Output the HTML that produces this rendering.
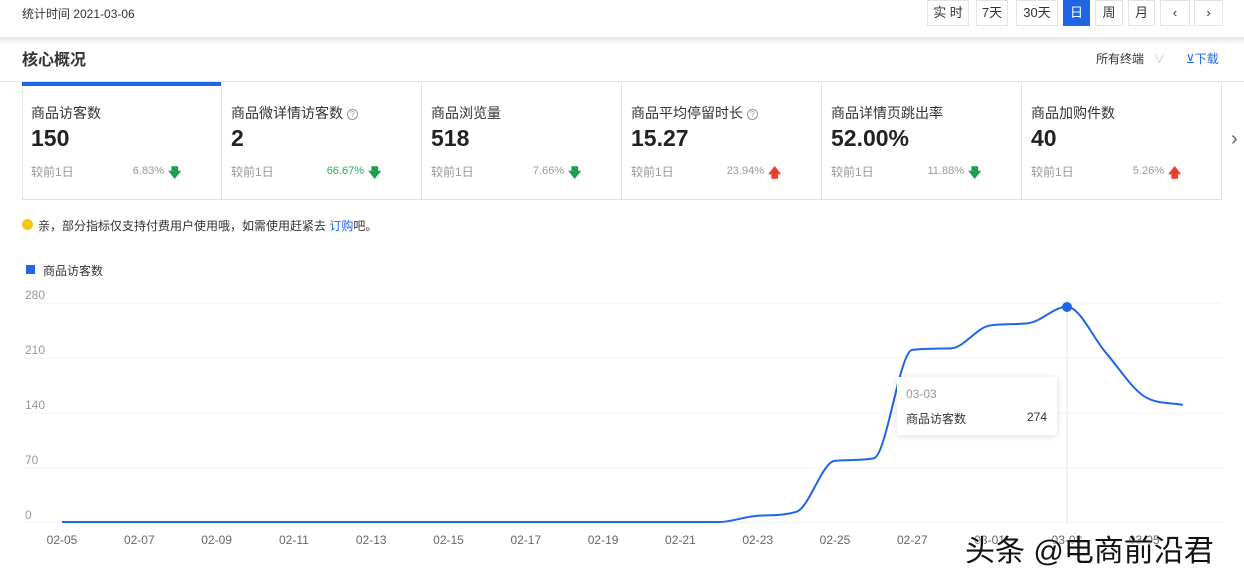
<!DOCTYPE html>
<html><head><meta charset="utf-8">
<style>
*{margin:0;padding:0;box-sizing:border-box}
body{width:1244px;height:579px;background:#fff;font-family:"Liberation Sans","Noto Sans CJK SC",sans-serif;color:#333;position:relative;overflow:hidden}
.a{position:absolute;white-space:nowrap}
.btn{position:absolute;top:0;height:26px;border:1px solid #e3e3e3;font-size:13px;line-height:24px;text-align:center;color:#333;background:#fff}
.card{position:absolute;top:82px;height:118px;width:200px;border-right:1px solid #dfe3e8;border-bottom:1px solid #dfe3e8}
.lbl{position:absolute;left:9px;top:21px;font-size:14px;color:#333}
.num{position:absolute;left:9px;top:43px;font-size:23px;font-weight:bold;color:#222}
.ft{position:absolute;left:9px;top:81px;font-size:12px;color:#999}
.pc{position:absolute;top:83px;left:62px;font-size:11px;color:#999;text-align:right;width:80px}
.ar{position:absolute;top:82px;left:146px;font-size:13px;font-weight:bold}
.q{display:inline-block;width:11px;height:11px;border:1px solid #999;border-radius:50%;font-size:8px;line-height:9px;text-align:center;color:#999;vertical-align:1px;margin-left:4px}
</style></head><body>
<div class="a" style="left:22px;top:5px;font-size:12px;color:#333">统计时间 2021-03-06</div>
<div class="btn" style="left:927px;width:42px">实 时</div>
<div class="btn" style="left:976px;width:32px">7天</div>
<div class="btn" style="left:1016px;width:42px">30天</div>
<div class="btn" style="left:1063px;width:27px;background:#1f66e5;border-color:#1f66e5;color:#fff">日</div>
<div class="btn" style="left:1095px;width:28px">周</div>
<div class="btn" style="left:1128px;width:27px">月</div>
<div class="btn" style="left:1160px;width:30px">‹</div>
<div class="btn" style="left:1194px;width:29px">›</div>
<div class="a" style="left:0;top:37px;width:1244px;height:8px;background:linear-gradient(#e6e6e6,#fff)"></div>
<div class="a" style="left:22px;top:46px;font-size:16px;font-weight:bold;color:#333">核心概况</div>
<div class="a" style="left:1096px;top:50px;font-size:12px;color:#333">所有终端 <span style="color:#ccc;margin-left:6px">∨</span></div>
<div class="a" style="left:1186px;top:50px;font-size:12px;color:#1f66e5">⊻下载</div>
<div class="a" style="left:0;top:81px;width:1244px;height:1px;background:#e3e6ea"></div>
<div class="a" style="left:22px;top:82px;width:1px;height:118px;background:#dfe3e8"></div>

<div class="card" style="left:22px"><div class="a" style="left:0;top:0;width:199px;height:4px;background:#1f66e5"></div>
<div class="lbl">商品访客数</div><div class="num">150</div><div class="ft">较前1日</div><div class="pc">6.83%</div><div class="ar" style="color:#1a9f4a">🡇</div></div>
<div class="card" style="left:222px">
<div class="lbl">商品微详情访客数<span class="q">?</span></div><div class="num">2</div><div class="ft">较前1日</div><div class="pc" style="color:#1db35a">66.67%</div><div class="ar" style="color:#1a9f4a">🡇</div></div>
<div class="card" style="left:422px">
<div class="lbl">商品浏览量</div><div class="num">518</div><div class="ft">较前1日</div><div class="pc">7.66%</div><div class="ar" style="color:#1a9f4a">🡇</div></div>
<div class="card" style="left:622px">
<div class="lbl">商品平均停留时长<span class="q">?</span></div><div class="num">15.27</div><div class="ft">较前1日</div><div class="pc">23.94%</div><div class="ar" style="color:#f03a2e">🡅</div></div>
<div class="card" style="left:822px">
<div class="lbl">商品详情页跳出率</div><div class="num">52.00%</div><div class="ft">较前1日</div><div class="pc">11.88%</div><div class="ar" style="color:#1a9f4a">🡇</div></div>
<div class="card" style="left:1022px">
<div class="lbl">商品加购件数</div><div class="num">40</div><div class="ft">较前1日</div><div class="pc">5.26%</div><div class="ar" style="color:#f03a2e">🡅</div></div>
<div class="a" style="left:1231px;top:128px;font-size:20px;color:#666">›</div>

<div class="a" style="left:22px;top:219px;width:11px;height:11px;border-radius:50%;background:#f5c518"></div>
<div class="a" style="left:38px;top:217px;font-size:12px;color:#333">亲，部分指标仅支持付费用户使用哦，如需使用赶紧去 <span style="color:#1f66e5">订购</span>吧。</div>

<div class="a" style="left:26px;top:265px;width:9px;height:9px;background:#1f66e5"></div>
<div class="a" style="left:43px;top:262px;font-size:12px;color:#333">商品访客数</div>

<svg class="a" style="left:0;top:0" width="1244" height="579">
<g stroke="#f1f2f6" stroke-width="1">
<line x1="23" x2="1222" y1="303" y2="303"/><line x1="23" x2="1222" y1="358" y2="358"/>
<line x1="23" x2="1222" y1="413" y2="413"/><line x1="23" x2="1222" y1="468" y2="468"/>
<line x1="23" x2="1222" y1="522.5" y2="522.5"/>
</g>
<g font-size="12" fill="#999" font-family="Liberation Sans,sans-serif">
<text x="25" y="299">280</text><text x="25" y="354">210</text><text x="25" y="409">140</text><text x="25" y="464">70</text><text x="25" y="519">0</text>
</g>
<g id="xl" font-size="12" fill="#666" text-anchor="middle" font-family="Liberation Sans,sans-serif"></g>
<line x1="1067" x2="1067" y1="307" y2="522" stroke="#e3e5ea"/>
<path id="ln" fill="none" stroke="#1f66e5" stroke-width="2"/>
<circle cx="1067" cy="307" r="5" fill="#1f66e5"/>
</svg>
<div class="a" style="left:897px;top:377px;width:160px;height:58px;background:#fff;box-shadow:0 1px 6px rgba(0,0,0,.15)">
<div class="a" style="left:9px;top:10px;font-size:12px;color:#999">03-03</div>
<div class="a" style="left:9px;top:33px;font-size:12px;color:#333">商品访客数</div>
<div class="a" style="right:10px;top:33px;font-size:12px;color:#333">274</div>
</div>
<div class="a" style="left:965px;top:526px;font-size:30px;color:#111;text-shadow:0 0 2px #fff,1px 1px 0 #fff">头条 @电商前沿君</div>
<script>
var v=[0,0,0,0,0,0,0,0,0,0,0,0,0,0,0,0,0,0,8,13,78,81,219,221,250,253,274,216,160,149];
var X=function(i){return 62+i*38.65},Y=function(y){return 522-y*55/70};
var xs=v.map((_,i)=>X(i)),ys=v.map(Y),n=v.length;
var d=[],m=[];for(var i=0;i<n-1;i++)d.push((ys[i+1]-ys[i])/(xs[i+1]-xs[i]));
m[0]=d[0];m[n-1]=d[n-2];for(i=1;i<n-1;i++){m[i]=d[i-1]*d[i]<=0?0:(d[i-1]+d[i])/2;}
for(i=0;i<n-1;i++){if(d[i]==0){m[i]=0;m[i+1]=0;continue;}var a=m[i]/d[i],b=m[i+1]/d[i],s=a*a+b*b;if(s>9){var t=3/Math.sqrt(s);m[i]=t*a*d[i];m[i+1]=t*b*d[i];}}
var p="M"+xs[0]+","+ys[0];
for(i=0;i<n-1;i++){var h=(xs[i+1]-xs[i])/3;p+="C"+(xs[i]+h)+","+(ys[i]+m[i]*h)+" "+(xs[i+1]-h)+","+(ys[i+1]-m[i+1]*h)+" "+xs[i+1]+","+ys[i+1];}
document.getElementById("ln").setAttribute("d",p);
var lb=["02-05","02-07","02-09","02-11","02-13","02-15","02-17","02-19","02-21","02-23","02-25","02-27","03-01","03-03","03-05"],g=document.getElementById("xl"),s="";
lb.forEach((t,k)=>{s+='<text x="'+X(k*2)+'" y="544">'+t+'</text>'});g.innerHTML=s;
</script>
</body></html>
